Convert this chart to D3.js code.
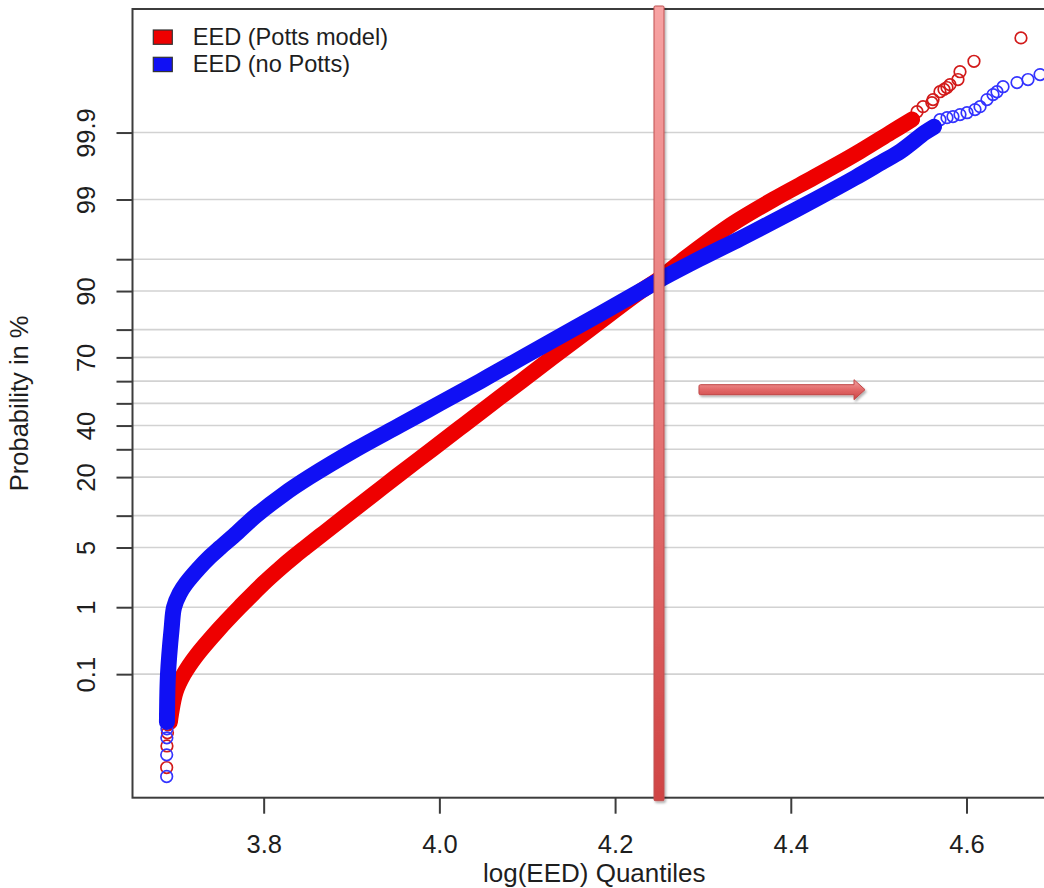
<!DOCTYPE html>
<html>
<head>
<meta charset="utf-8">
<script src="https://cdn.jsdelivr.net/npm/d3@7"></script>
<style>
  html, body { margin: 0; padding: 0; background: #fff; }
  svg { display: block; font-family: "Liberation Sans", Arial, Helvetica, sans-serif; }
</style>
</head>
<body>
<svg id="chart" width="1044" height="888"></svg>
<script>
// Normal probability plot of log(EED) quantiles for two simulations.

// ---- data ----
// Dense body of each quantile curve: log(EED) value and cumulative probability (%)
const pottsBandEED  = [3.6933, 3.6946, 3.6998, 3.7091, 3.7234, 3.7491, 3.7726, 3.7882, 3.7998, 3.8189, 3.8343, 3.8475, 3.8690, 3.8938, 3.9253, 3.9501, 3.9916, 4.0269, 4.0599, 4.0935, 4.1287, 4.1709, 4.2295, 4.2483, 4.2785, 4.3100, 4.3345, 4.3802, 4.4258, 4.4567, 4.4792, 4.5137, 4.5380];
const pottsBandProb = [0.0139, 0.02, 0.05, 0.1, 0.2, 0.5, 1, 1.5, 2, 3, 4, 5, 7, 10, 15, 20, 30, 40, 50, 60, 70, 80, 90, 92, 95, 97, 98, 99, 99.5, 99.7, 99.8, 99.9, 99.94];

const noPottsBandEED  = [3.6899, 3.6900, 3.6904, 3.6911, 3.6925, 3.6952, 3.6980, 3.7043, 3.7118, 3.7264, 3.7389, 3.7506, 3.7699, 3.7912, 3.8230, 3.8521, 3.9051, 3.9545, 4.0007, 4.0466, 4.0946, 4.1512, 4.2289, 4.2500, 4.2955, 4.3426, 4.3761, 4.4278, 4.4734, 4.5029, 4.5252, 4.5527, 4.5630];
const noPottsBandProb = [0.0139, 0.02, 0.05, 0.1, 0.2, 0.5, 1, 1.5, 2, 3, 4, 5, 7, 10, 15, 20, 30, 40, 50, 60, 70, 80, 90, 92, 95, 97, 98, 99, 99.5, 99.7, 99.8, 99.9, 99.92];

// Sparse extreme quantiles, drawn as individual open circles
const pottsTailEED  = [3.6896, 3.6899, 3.6905, 3.6911, 4.5437, 4.5505, 4.5606, 4.5619, 4.5698, 4.5744, 4.5778, 4.5812, 4.5903, 4.5926, 4.6085, 4.6620];
const pottsTailProb = [0.00162, 0.00463, 0.0085, 0.0122, 99.9563, 99.9645, 99.97, 99.9736, 99.9812, 99.983, 99.9843, 99.9862, 99.989, 99.9923, 99.99525, 99.99848];

const noPottsTailEED  = [3.6896, 3.6896, 3.6898, 3.6899, 4.5698, 4.5778, 4.5846, 4.5926, 4.6006, 4.6097, 4.6154, 4.6233, 4.6302, 4.6347, 4.6416, 4.6575, 4.6700, 4.6837];
const noPottsTailProb = [0.00103, 0.00302, 0.00675, 0.0102, 99.9396, 99.9443, 99.9466, 99.9508, 99.9545, 99.9599, 99.9645, 99.9736, 99.9787, 99.9812, 99.9849, 99.9874, 99.989, 99.9912];

// Axis ticks
const xTicks = [3.8, 4.0, 4.2, 4.4, 4.6];
const yTicks = [0.1, 1, 5, 10, 20, 30, 40, 50, 60, 70, 80, 90, 95, 99, 99.9];
const yTickLabels = ["0.1", "1", "5", "", "20", "", "40", "", "", "70", "", "90", "", "99", "99.9"];

// Legend entries
const seriesNames = ["EED (Potts model)", "EED (no Potts)"];
const seriesColors = ["#ee0000", "#1010f4"];
const tailColors = ["#d21a1a", "#3434ff"];

// Annotations: cutoff and direction arrow
const cutoffEED = 4.25;
const arrowFromEED = 4.2955;
const arrowToEED = 4.4845;
const arrowProb = 56.2;

// ---- helpers ----
// Inverse standard normal CDF (Acklam's rational approximation)
function qnorm(p) {
  const a = [-3.969683028665376e+01, 2.209460984245205e+02, -2.759285104469687e+02, 1.383577518672690e+02, -3.066479806614716e+01, 2.506628277459239e+00];
  const b = [-5.447609879822406e+01, 1.615858368580409e+02, -1.556989798598866e+02, 6.680131188771972e+01, -1.328068155288572e+01];
  const c = [-7.784894002430293e-03, -3.223964580411365e-01, -2.400758277161838e+00, -2.549732539343734e+00, 4.374664141464968e+00, 2.938163982698783e+00];
  const d = [7.784695709041462e-03, 3.224671290700398e-01, 2.445134137142996e+00, 3.754408661907416e+00];
  const pl = 0.02425, ph = 1 - pl;
  let q, r;
  if (p < pl) {
    q = Math.sqrt(-2 * Math.log(p));
    return (((((c[0]*q+c[1])*q+c[2])*q+c[3])*q+c[4])*q+c[5]) / ((((d[0]*q+d[1])*q+d[2])*q+d[3])*q+1);
  }
  if (p <= ph) {
    q = p - 0.5; r = q * q;
    return (((((a[0]*r+a[1])*r+a[2])*r+a[3])*r+a[4])*r+a[5])*q / (((((b[0]*r+b[1])*r+b[2])*r+b[3])*r+b[4])*r+1);
  }
  q = Math.sqrt(-2 * Math.log(1 - p));
  return -(((((c[0]*q+c[1])*q+c[2])*q+c[3])*q+c[4])*q+c[5]) / ((((d[0]*q+d[1])*q+d[2])*q+d[3])*q+1);
}
const probit = pct => qnorm(pct / 100);

// ---- layout ----
const plot = { left: 132.5, top: 9, right: 1056, bottom: 797.7 };

const x = d3.scaleLinear()
  .domain([3.6507, 3.8 + (plot.right - 263.7) / 878.5])
  .range([plot.left, plot.right]);
// Probability axis on a normal-quantile (probit) scale
const yz = d3.scaleLinear().domain([-4.5, 4.5]).range([plot.bottom, plot.top]);
const y = pct => yz(probit(pct));

const svg = d3.select("#chart");
const defs = svg.append("defs");

const barGrad = defs.append("linearGradient").attr("id", "barGrad")
  .attr("x1", 0).attr("y1", 0).attr("x2", 0).attr("y2", 1);
barGrad.append("stop").attr("offset", "0%").attr("stop-color", "#f7a3a3");
barGrad.append("stop").attr("offset", "50%").attr("stop-color", "#e67676");
barGrad.append("stop").attr("offset", "100%").attr("stop-color", "#d04444");

const arrowGrad = defs.append("linearGradient").attr("id", "arrowGrad")
  .attr("x1", 0).attr("y1", 0).attr("x2", 0).attr("y2", 1);
arrowGrad.append("stop").attr("offset", "0%").attr("stop-color", "#f4a2a2");
arrowGrad.append("stop").attr("offset", "50%").attr("stop-color", "#e26868");
arrowGrad.append("stop").attr("offset", "100%").attr("stop-color", "#cc4444");

const shadow = defs.append("filter").attr("id", "shadow")
  .attr("x", "-50%").attr("y", "-20%").attr("width", "200%").attr("height", "140%");
shadow.append("feDropShadow").attr("dx", 1.5).attr("dy", 2).attr("stdDeviation", 1.3)
  .attr("flood-color", "#000").attr("flood-opacity", 0.3);

defs.append("clipPath").attr("id", "plotClip").append("rect")
  .attr("x", plot.left).attr("y", plot.top)
  .attr("width", plot.right - plot.left).attr("height", plot.bottom - plot.top);

// ---- grid lines ----
svg.append("g").selectAll("line").data(yTicks).join("line")
  .attr("x1", plot.left).attr("x2", plot.right)
  .attr("y1", d => y(d)).attr("y2", d => y(d))
  .attr("stroke", "#d2d2d2").attr("stroke-width", 1.6);

// ---- series ----
const series = [
  { bandX: pottsBandEED, bandP: pottsBandProb, tailX: pottsTailEED, tailP: pottsTailProb },
  { bandX: noPottsBandEED, bandP: noPottsBandProb, tailX: noPottsTailEED, tailP: noPottsTailProb }
];

const line = d3.line()
  .x(d => x(d[0])).y(d => y(d[1]))
  .curve(d3.curveCatmullRom.alpha(0.5));

const dataLayer = svg.append("g").attr("clip-path", "url(#plotClip)");
series.forEach((s, i) => {
  const g = dataLayer.append("g");
  g.selectAll("circle").data(d3.zip(s.tailX, s.tailP)).join("circle")
    .attr("cx", d => x(d[0])).attr("cy", d => y(d[1])).attr("r", 5.8)
    .attr("fill", "none").attr("stroke", tailColors[i]).attr("stroke-width", 1.7);
  g.append("path")
    .datum(d3.zip(s.bandX, s.bandP))
    .attr("d", line)
    .attr("fill", "none")
    .attr("stroke", seriesColors[i])
    .attr("stroke-width", 16)
    .attr("stroke-linecap", "round")
    .attr("stroke-linejoin", "round");
});

// ---- axes ----
const axisColor = "#3c3c3c";
const textColor = "#1e1e1e";

const xAxis = svg.append("g")
  .attr("transform", `translate(0,${plot.bottom})`)
  .call(d3.axisBottom(x).tickValues(xTicks).tickFormat(d3.format(".1f")).tickSize(16).tickSizeOuter(0));
xAxis.select(".domain").remove();
xAxis.selectAll(".tick line").attr("stroke", axisColor).attr("stroke-width", 2);
xAxis.selectAll(".tick text")
  .attr("y", 55).attr("dy", 0)
  .attr("fill", textColor).attr("font-size", 25.5)
  .attr("font-family", "Liberation Sans, Arial, sans-serif");

const yAxis = svg.append("g")
  .attr("transform", `translate(${plot.left},0)`)
  .call(d3.axisLeft(yz).tickValues(yTicks.map(probit))
    .tickFormat((d, i) => yTickLabels[i]).tickSize(16).tickSizeOuter(0));
yAxis.select(".domain").remove();
yAxis.selectAll(".tick line").attr("stroke", axisColor).attr("stroke-width", 2);
yAxis.selectAll(".tick text")
  .attr("x", 0).attr("dy", 0)
  .attr("transform", "translate(-37.5,0) rotate(-90)")
  .attr("text-anchor", "middle")
  .attr("fill", textColor).attr("font-size", 25.5)
  .attr("font-family", "Liberation Sans, Arial, sans-serif");

// plot box
svg.append("rect")
  .attr("x", plot.left).attr("y", plot.top)
  .attr("width", plot.right - plot.left).attr("height", plot.bottom - plot.top)
  .attr("fill", "none").attr("stroke", axisColor).attr("stroke-width", 2);

// axis titles
svg.append("text")
  .attr("x", (plot.left + plot.right) / 2).attr("y", 882)
  .attr("text-anchor", "middle").attr("font-size", 26).attr("fill", textColor)
  .text("log(EED) Quantiles");
svg.append("text")
  .attr("transform", `translate(28,${(plot.top + plot.bottom) / 2}) rotate(-90)`)
  .attr("text-anchor", "middle").attr("font-size", 25.5).attr("fill", textColor)
  .text("Probability in %");

// ---- legend ----
const legend = svg.append("g");
seriesNames.forEach((name, i) => {
  const ly = 30 + i * 27.3;
  legend.append("rect")
    .attr("x", 153.3).attr("y", ly).attr("width", 19).attr("height", 14.3)
    .attr("fill", seriesColors[i]).attr("stroke", "#333").attr("stroke-width", 1.2);
  legend.append("text")
    .attr("x", 192.7).attr("y", ly + 14.8)
    .attr("font-size", 23.6).attr("fill", textColor)
    .text(name);
});

// ---- cutoff bar ----
const bx = x(cutoffEED);
svg.append("rect")
  .attr("x", bx - 5).attr("y", plot.top - 3)
  .attr("width", 10).attr("height", plot.bottom - plot.top + 6)
  .attr("rx", 1.2)
  .attr("fill", "url(#barGrad)").attr("stroke", "#bf5050").attr("stroke-width", 1)
  .attr("filter", "url(#shadow)");

// ---- arrow ----
const ax0 = x(arrowFromEED), ax1 = x(arrowToEED), ay = y(arrowProb);
const shaftH = 5, headH = 10, headL = 11;
const arrowPath = d3.path();
arrowPath.moveTo(ax0 + 1.5, ay - shaftH);
arrowPath.lineTo(ax1 - headL, ay - shaftH);
arrowPath.lineTo(ax1 - headL, ay - headH);
arrowPath.lineTo(ax1, ay);
arrowPath.lineTo(ax1 - headL, ay + headH);
arrowPath.lineTo(ax1 - headL, ay + shaftH);
arrowPath.lineTo(ax0 + 1.5, ay + shaftH);
arrowPath.quadraticCurveTo(ax0, ay + shaftH, ax0, ay + shaftH - 1.5);
arrowPath.lineTo(ax0, ay - shaftH + 1.5);
arrowPath.quadraticCurveTo(ax0, ay - shaftH, ax0 + 1.5, ay - shaftH);
arrowPath.closePath();
svg.append("path")
  .attr("d", arrowPath.toString())
  .attr("fill", "url(#arrowGrad)").attr("stroke", "#c04848").attr("stroke-width", 1)
  .attr("filter", "url(#shadow)");
</script>
</body>
</html>
